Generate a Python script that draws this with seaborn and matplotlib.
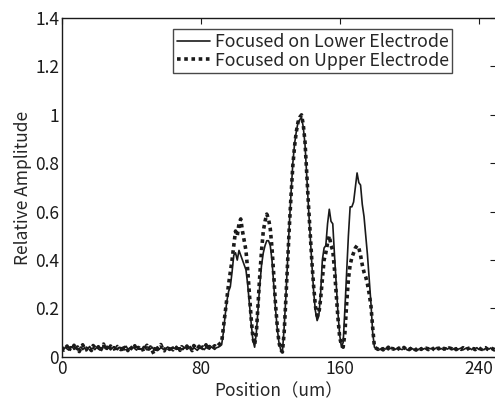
import matplotlib
matplotlib.use("Agg")
import matplotlib.pyplot as plt
import numpy as np
import pandas as pd
import seaborn as sns

sns.set_theme(style="white")
plt.rcParams["font.family"] = ["Noto Sans CJK JP", "DejaVu Sans"]

# baseline before the peaks (0..91 um)
lower_left = [
    0.035, 0.030, 0.040, 0.033, 0.028, 0.037, 0.042, 0.031, 0.036, 0.029,
    0.034, 0.041, 0.030, 0.038, 0.027, 0.035, 0.043, 0.032, 0.036, 0.030,
    0.039, 0.033, 0.028, 0.037, 0.045, 0.034, 0.031, 0.038, 0.029, 0.036,
    0.042, 0.033, 0.030, 0.040, 0.035, 0.027, 0.038, 0.044, 0.032, 0.036,
    0.030, 0.041, 0.034, 0.028, 0.039, 0.035, 0.031, 0.043, 0.036, 0.029,
    0.037, 0.033, 0.040, 0.030, 0.035, 0.042, 0.031, 0.038, 0.034, 0.028,
    0.036, 0.041, 0.033, 0.030, 0.039, 0.035, 0.044, 0.032, 0.037, 0.029,
    0.034, 0.040, 0.031, 0.036, 0.043, 0.030, 0.038, 0.033, 0.027, 0.036,
    0.041, 0.034, 0.030, 0.039, 0.035, 0.032, 0.042, 0.036, 0.031, 0.038,
    0.040, 0.044,
]
upper_left = [
    0.040, 0.028, 0.036, 0.045, 0.025, 0.038, 0.032, 0.048, 0.030, 0.041,
    0.022, 0.037, 0.050, 0.033, 0.029, 0.044, 0.035, 0.026, 0.047, 0.039,
    0.031, 0.042, 0.024, 0.036, 0.053, 0.030, 0.040, 0.027, 0.045, 0.034,
    0.038, 0.021, 0.043, 0.036, 0.030, 0.049, 0.033, 0.040, 0.026, 0.044,
    0.037, 0.031, 0.046, 0.028, 0.039, 0.035, 0.042, 0.023, 0.038, 0.048,
    0.032, 0.041, 0.027, 0.012, 0.044, 0.030, 0.039, 0.051, 0.034, 0.025,
    0.043, 0.037, 0.031, 0.046, 0.029, 0.040, 0.035, 0.048, 0.027, 0.042,
    0.036, 0.030, 0.045, 0.033, 0.039, 0.026, 0.047, 0.038, 0.032, 0.044,
    0.029, 0.041, 0.036, 0.050, 0.031, 0.043, 0.035, 0.039, 0.046, 0.040,
    0.048, 0.055,
]

# peak region (92..180 um)
lower_peak = [
    0.05, 0.10, 0.17, 0.23, 0.27, 0.29, 0.35, 0.42, 0.43, 0.40,
    0.44, 0.42, 0.40, 0.38, 0.36, 0.30, 0.22, 0.14, 0.07, 0.04,
    0.10, 0.20, 0.30, 0.38, 0.43, 0.46, 0.48, 0.48, 0.46, 0.40,
    0.30, 0.20, 0.12, 0.06, 0.03, 0.02, 0.12, 0.25, 0.40, 0.55,
    0.68, 0.80, 0.88, 0.93, 0.97, 0.98, 0.99, 0.95, 0.88, 0.75,
    0.62, 0.50, 0.38, 0.27, 0.19, 0.15, 0.17, 0.26, 0.40, 0.45,
    0.46, 0.55, 0.61, 0.56, 0.55, 0.42, 0.30, 0.18, 0.09, 0.04,
    0.06, 0.20, 0.35, 0.50, 0.62, 0.62, 0.64, 0.70, 0.76, 0.72,
    0.71, 0.63, 0.58, 0.50, 0.42, 0.32, 0.22, 0.10, 0.04,
]
upper_peak = [
    0.06, 0.12, 0.18, 0.24, 0.30, 0.35, 0.40, 0.46, 0.52, 0.50,
    0.55, 0.57, 0.52, 0.48, 0.44, 0.36, 0.26, 0.16, 0.08, 0.05,
    0.10, 0.22, 0.34, 0.44, 0.52, 0.56, 0.59, 0.57, 0.53, 0.45,
    0.34, 0.22, 0.13, 0.06, 0.03, 0.02, 0.10, 0.24, 0.39, 0.54,
    0.67, 0.79, 0.87, 0.93, 0.97, 0.99, 1.00, 0.96, 0.89, 0.76,
    0.63, 0.51, 0.39, 0.29, 0.21, 0.17, 0.18, 0.24, 0.32, 0.40,
    0.43, 0.47, 0.50, 0.46, 0.44, 0.36, 0.26, 0.16, 0.08, 0.05,
    0.04, 0.10, 0.22, 0.32, 0.38, 0.41, 0.43, 0.45, 0.46, 0.45,
    0.42, 0.38, 0.35, 0.33, 0.30, 0.26, 0.21, 0.12, 0.04,
]

# baseline after the peaks (181..250 um)
lower_right = [
    0.033, 0.036, 0.030, 0.035, 0.038, 0.032, 0.034, 0.029, 0.036, 0.033,
    0.037, 0.031, 0.035, 0.039, 0.032, 0.030, 0.036, 0.034, 0.028, 0.035,
    0.038, 0.033, 0.031, 0.036, 0.029, 0.034, 0.037, 0.032, 0.035, 0.030,
    0.038, 0.033, 0.036, 0.031, 0.034, 0.039, 0.030, 0.035, 0.033, 0.028,
    0.036, 0.032, 0.037, 0.034, 0.030, 0.035, 0.038, 0.031, 0.034, 0.036,
    0.029, 0.033, 0.037, 0.032, 0.035, 0.030, 0.036, 0.034, 0.038, 0.031,
    0.035, 0.033, 0.029, 0.036, 0.034, 0.032, 0.037, 0.030, 0.035, 0.033,
]
upper_right = [
    0.036, 0.031, 0.038, 0.034, 0.029, 0.037, 0.033, 0.040, 0.030, 0.035,
    0.032, 0.038, 0.029, 0.036, 0.034, 0.031, 0.039, 0.033, 0.036, 0.030,
    0.035, 0.040, 0.032, 0.028, 0.037, 0.034, 0.031, 0.038, 0.033, 0.036,
    0.030, 0.035, 0.039, 0.032, 0.027, 0.036, 0.034, 0.038, 0.031, 0.035,
    0.033, 0.029, 0.037, 0.035, 0.032, 0.039, 0.030, 0.034, 0.036, 0.031,
    0.038, 0.033, 0.029, 0.035, 0.037, 0.032, 0.034, 0.030, 0.036, 0.039,
    0.033, 0.031, 0.035, 0.038, 0.032, 0.030, 0.036, 0.034, 0.029, 0.033,
]

lower = lower_left + lower_peak + lower_right
upper = upper_left + upper_peak + upper_right
position = np.arange(len(lower))

x_ticks = [0, 80, 160, 240]
y_ticks = [0, 0.2, 0.4, 0.6, 0.8, 1.0, 1.2, 1.4]
y_tick_labels = ["0", "0.2", "0.4", "0.6", "0.8", "1", "1.2", "1.4"]

df = pd.DataFrame({"position": position, "lower": lower, "upper": upper})

fig = plt.figure(figsize=(4.95, 4.01), dpi=100)
ax = fig.add_axes([0.125, 0.11, 0.877, 0.845])

sns.lineplot(data=df, x="position", y="lower", ax=ax, color="#1a1a1a",
             linewidth=1.2, label="Focused on Lower Electrode")
sns.lineplot(data=df, x="position", y="upper", ax=ax, color="#1a1a1a",
             linewidth=2.6, linestyle=(0, (1, 1)),
             label="Focused on Upper Electrode")

ax.set_xlim(0, 250)
ax.set_ylim(0, 1.4)
ax.set_xticks(x_ticks)
ax.set_yticks(y_ticks)
ax.set_yticklabels(y_tick_labels)
ax.set_xlabel("Position（um）", fontsize=12.5, labelpad=3.5)
ax.set_ylabel("Relative Amplitude", fontsize=12.5, labelpad=2)
ax.tick_params(direction="in", length=4, width=0.8, top=True, right=True,
               labelsize=12.5, colors="#1a1a1a", pad=2)
for s in ax.spines.values():
    s.set_color("#1a1a1a")
    s.set_linewidth(1.0)

leg = ax.legend(loc="upper left", bbox_to_anchor=(0.256, 0.967),
                borderaxespad=0, fontsize=12.8, frameon=True, fancybox=False,
                handlelength=1.9, handletextpad=0.25, labelspacing=0.05,
                borderpad=0.2)
leg.get_frame().set_edgecolor("#1a1a1a")
leg.get_frame().set_linewidth(1.0)

fig.savefig("out.png", dpi=100)
